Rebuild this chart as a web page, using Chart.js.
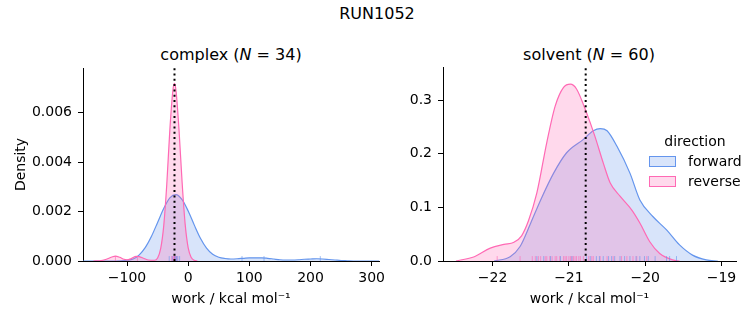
<!DOCTYPE html>
<html>
<head>
<meta charset="utf-8">
<script src="https://cdn.jsdelivr.net/npm/chart.js@4"></script>
<style>
  body { margin: 0; background: #fff; font-family: "DejaVu Sans", sans-serif; color: #000; }
  #wrap { position: relative; width: 753px; height: 325px; overflow: hidden; }
  canvas { position: absolute; }
  .txt { position: absolute; white-space: nowrap; transform: translate(-50%, -50%); }
  .big { font-size: 16px; }
  .leg { position: absolute; font-size: 14px; white-space: nowrap; }
  .box { position: absolute; width: 25px; height: 9px; border: 1.3px solid; }
</style>
</head>
<body>
<div id="wrap">
  <div class="txt big" style="left:377px; top:13px;">RUN1052</div>
  <div class="txt big" style="left:231px; top:54px;">complex (<i>N</i> = 34)</div>
  <div class="txt big" style="left:589px; top:54px;">solvent (<i>N</i> = 60)</div>

  <canvas id="complex" width="390" height="285" style="left:0px; top:40px;"></canvas>
  <canvas id="solvent" width="353" height="285" style="left:400px; top:40px;"></canvas>

  <div class="txt" style="left:695px; top:141px; font-size:14px;">direction</div>
  <div class="box" style="left:649px; top:156px; border-color:#6495ed; background:rgba(100,149,237,0.25);"></div>
  <div class="leg" style="left:688px; top:153px;">forward</div>
  <div class="box" style="left:649px; top:176px; border-color:#ff69b4; background:rgba(255,105,180,0.25);"></div>
  <div class="leg" style="left:688px; top:173px;">reverse</div>
</div>

<script>
// complex leg: density curves
const complexFwdX = [-172, -150, -130, -110, -100, -90, -80, -70, -60, -50, -40, -30, -20, -10, 0, 10, 20, 30, 40, 50, 60, 70, 80, 90, 100, 110, 120, 130, 140, 150, 160, 170, 180, 190, 200, 210, 220, 230, 240, 250, 260, 270, 290, 312];
const complexFwdY = [0, 0, 0, 0.00001, 0.00003, 0.00008, 0.00025, 0.00055, 0.001, 0.00156, 0.00212, 0.00255, 0.00268, 0.00248, 0.00202, 0.00145, 0.00092, 0.00052, 0.00027, 0.00015, 0.0001, 0.00008, 0.00009, 0.00011, 0.00013, 0.00013, 0.00013, 0.00011, 0.00008, 0.00005, 0.00004, 0.00004, 0.00005, 0.00007, 0.00008, 0.00009, 0.00008, 0.00006, 0.00004, 0.00002, 0.00001, 0, 0, 0];
const complexRevX = [-155, -145, -135, -125, -119, -112, -105, -100, -93, -85, -80, -72, -65, -55, -50, -45, -40, -35, -30, -25, -22.4, -20, -15, -10, -5, 0, 5, 10, 15];
const complexRevY = [0, 0.00001, 0.00006, 0.00016, 0.0002, 0.00015, 0.00007, 0.00005, 0.0001, 0.00019, 0.00018, 0.0001, 0.00004, 0.00003, 0.00012, 0.0005, 0.00142, 0.0031, 0.0053, 0.0069, 0.00718, 0.0069, 0.0053, 0.0032, 0.0015, 0.00053, 0.00014, 0.00003, 0];
const complexFwdRug = [-31, -26, -22, -20, -19, -17, -14, 88, 124, 216];
const complexRevRug = [-119, -83, -27, -25, -24, -23, -22.5, -22, -21.5, -21, -20, -18];
const complexMark = -22.4;

// solvent leg
const solventFwdX = [-21.98, -21.77, -21.64, -21.5, -21.37, -21.2, -21.03, -20.81, -20.68, -20.59, -20.5, -20.37, -20.2, -20.07, -19.9, -19.72, -19.55, -19.38, -19.2, -19.05];
const solventFwdY = [0, 0.008, 0.027, 0.071, 0.114, 0.164, 0.202, 0.227, 0.243, 0.247, 0.243, 0.214, 0.164, 0.114, 0.083, 0.058, 0.03, 0.011, 0.002, 0];
const solventRevX = [-22.48, -22.24, -22.03, -21.85, -21.72, -21.62, -21.53, -21.42, -21.29, -21.18, -21.07, -20.98, -20.9, -20.77, -20.66, -20.55, -20.46, -20.33, -20.18, -20.07, -19.94, -19.81, -19.64, -19.55];
const solventRevY = [0, 0.008, 0.024, 0.031, 0.035, 0.047, 0.075, 0.127, 0.221, 0.289, 0.324, 0.33, 0.321, 0.277, 0.233, 0.183, 0.146, 0.121, 0.096, 0.071, 0.036, 0.014, 0.002, 0];
const solventFwdRug = [-21.42, -21.33, -21.24, -21.11, -20.96, -20.77, -20.72, -20.64, -20.6, -20.55, -20.48, -20.44, -20.4, -20.33, -20.27, -20.2, -20.12, -20.07, -20.01, -19.96, -19.87, -19.72, -19.68, -19.59];
const solventRevRug = [-21.94, -21.64, -21.48, -21.44, -21.4, -21.37, -21.31, -21.29, -21.25, -21.22, -21.18, -21.16, -21.12, -21.07, -21.05, -21.03, -21.0, -20.98, -20.96, -20.94, -20.92, -20.9, -20.87, -20.85, -20.81, -20.74, -20.7, -20.68, -20.59, -20.5, -20.42, -20.31, -20.24, -20.16, -20.11, -19.98];
const solventMark = -20.78;

const blue = "#6495ed";
const pink = "#ff69b4";

Chart.defaults.font.family = "DejaVu Sans";
Chart.defaults.font.size = 14;
Chart.defaults.color = "#000";

function pts(xs, ys) {
  return xs.map((x, i) => ({ x: x, y: ys[i] }));
}

function minus(v) {
  return v < 0 ? "\u2212" + Math.abs(v) : String(v);
}

function curve(xs, ys, color, fill, order) {
  return {
    data: pts(xs, ys),
    showLine: true,
    borderColor: color,
    borderWidth: 1.2,
    backgroundColor: fill,
    fill: "origin",
    pointRadius: 0,
    cubicInterpolationMode: "monotone",
    order: order
  };
}

function rug(xs, y, color) {
  return {
    data: xs.map(x => ({ x: x, y: y })),
    pointStyle: "line",
    rotation: 90,
    pointRadius: 2.5,
    borderWidth: 1,
    borderColor: color,
    order: 1
  };
}

function makeChart(id, o) {
  const fitY = scale => {
    scale.width = o.yWidth;
    scale.paddingTop = scale.paddingBottom = 0;
  };
  const fitX = scale => {
    scale.height = 64;
    scale.paddingLeft = scale.paddingRight = 0;
  };
  return new Chart(document.getElementById(id), {
    type: "scatter",
    data: {
      datasets: [
        {
          data: [{ x: o.mark, y: 0 }, { x: o.mark, y: o.yMax }],
          showLine: true,
          borderColor: "#000",
          borderWidth: 2,
          borderDash: [2, 3.3],
          borderCapStyle: "butt",
          pointRadius: 0,
          order: 0
        },
        rug(o.fwdRug, o.yMax * 0.0125, "rgba(100,149,237,0.6)"),
        rug(o.revRug, o.yMax * 0.0125, "rgba(255,105,180,0.6)"),
        curve(o.revX, o.revY, pink, "rgba(255,105,180,0.25)", 2),
        curve(o.fwdX, o.fwdY, blue, "rgba(100,149,237,0.25)", 3)
      ]
    },
    options: {
      responsive: false,
      animation: false,
      devicePixelRatio: 1,
      events: [],
      layout: { padding: { left: 0, top: o.padTop, right: o.padRight, bottom: 0 } },
      plugins: { legend: { display: false }, tooltip: { enabled: false } },
      scales: {
        x: {
          type: "linear",
          min: o.xMin,
          max: o.xMax,
          afterFit: fitX,
          grid: { drawOnChartArea: false, drawTicks: true, tickLength: 5, color: "#000" },
          border: { display: true, color: "#000", width: 1 },
          ticks: { stepSize: o.xStep, includeBounds: false, padding: 4, maxRotation: 0, callback: v => minus(v) },
          title: { display: true, text: "work / kcal mol\u207B\u00B9", padding: { top: 0, bottom: 17 } }
        },
        y: {
          min: 0,
          max: o.yMax,
          afterFit: fitY,
          grid: { drawOnChartArea: false, drawTicks: true, tickLength: 5, color: "#000" },
          border: { display: true, color: "#000", width: 1 },
          ticks: { stepSize: o.yStep, includeBounds: false, padding: 6, callback: v => v.toFixed(o.yDigits) },
          title: { display: o.yTitle, text: "Density", padding: { top: 13, bottom: 0 } }
        }
      }
    }
  });
}

makeChart("complex", {
  fwdX: complexFwdX, fwdY: complexFwdY, revX: complexRevX, revY: complexRevY,
  fwdRug: complexFwdRug, revRug: complexRevRug, mark: complexMark,
  xMin: -172, xMax: 312, xStep: 100, yMax: 0.0078, yStep: 0.002, yDigits: 3,
  yWidth: 83, padTop: 28, padRight: 11, yTitle: true
});

makeChart("solvent", {
  fwdX: solventFwdX, fwdY: solventFwdY, revX: solventRevX, revY: solventRevY,
  fwdRug: solventFwdRug, revRug: solventRevRug, mark: solventMark,
  xMin: -22.65, xMax: -18.81, xStep: 1, yMax: 0.362, yStep: 0.1, yDigits: 1,
  yWidth: 43, padTop: 27, padRight: 17, yTitle: false
});
</script>
</body>
</html>
